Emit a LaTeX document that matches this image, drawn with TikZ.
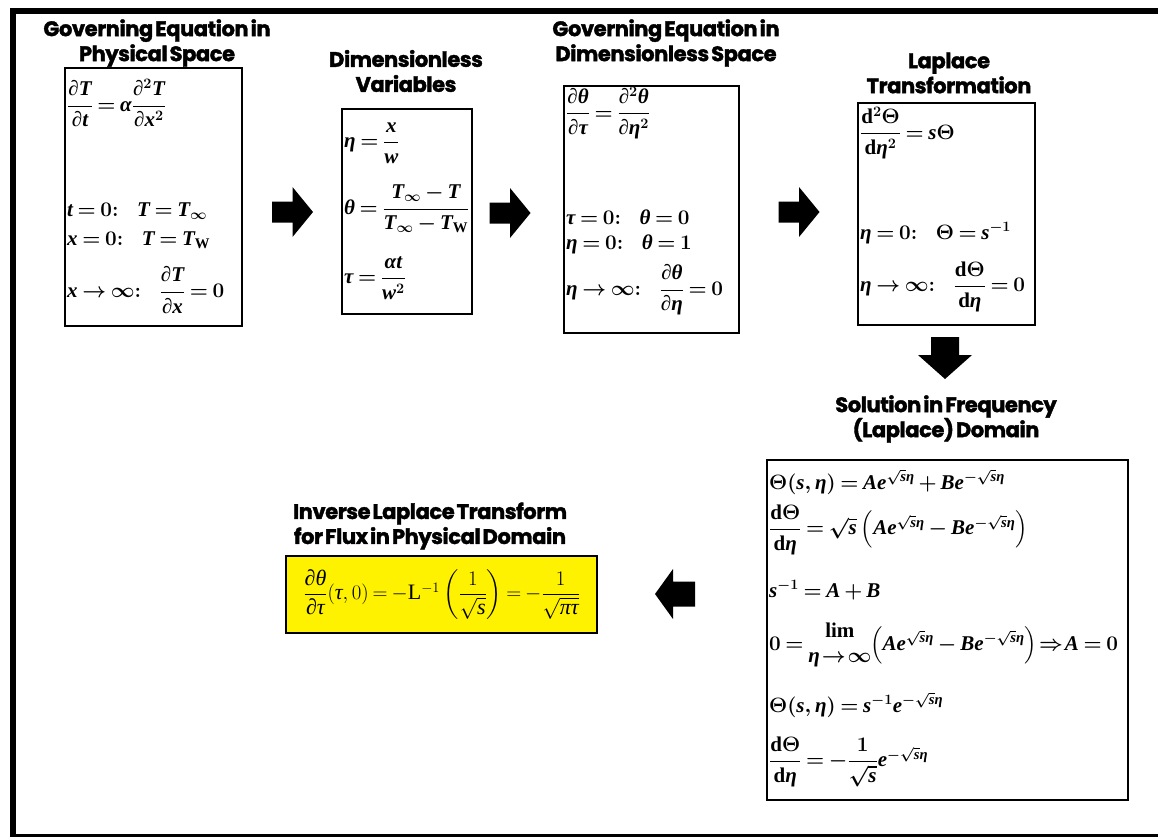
\documentclass[tikz,border=0pt]{standalone}
\usepackage{amsmath}
\usepackage{fontspec}
\newfontfamily\tmsfont{Liberation Serif}[NFSSFamily=tms]
\newfontfamily\titlefont{Poppins}[LetterSpace=-2,WordSpace=0.5,BoldFeatures={FakeBold=1.8}]
\DeclareSymbolFont{tmsbi}{TU}{tms}{m}{it}
\SetSymbolFont{tmsbi}{bold}{TU}{tms}{b}{it}
\DeclareSymbolFont{tmsbf}{TU}{tms}{m}{n}
\SetSymbolFont{tmsbf}{bold}{TU}{tms}{b}{n}
\DeclareMathAlphabet{\mrm}{TU}{tms}{m}{n}
\SetMathAlphabet{\mrm}{bold}{TU}{tms}{b}{n}
\DeclareMathSymbol{T}{\mathalpha}{tmsbi}{"54}
\DeclareMathSymbol{t}{\mathalpha}{tmsbi}{"74}
\DeclareMathSymbol{x}{\mathalpha}{tmsbi}{"78}
\DeclareMathSymbol{w}{\mathalpha}{tmsbi}{"77}
\DeclareMathSymbol{s}{\mathalpha}{tmsbi}{"73}
\DeclareMathSymbol{A}{\mathalpha}{tmsbi}{"41}
\DeclareMathSymbol{B}{\mathalpha}{tmsbi}{"42}
\DeclareMathSymbol{e}{\mathalpha}{tmsbi}{"65}
\DeclareMathSymbol{0}{\mathalpha}{tmsbf}{"30}
\DeclareMathSymbol{1}{\mathalpha}{tmsbf}{"31}
\DeclareMathSymbol{2}{\mathalpha}{tmsbf}{"32}
\DeclareMathSymbol{=}{\mathrel}{tmsbf}{"3D}
\DeclareMathSymbol{+}{\mathbin}{tmsbf}{"2B}
\Umathchardef\eta="0 \symtmsbi "03B7
\Umathchardef\theta="0 \symtmsbi "03B8
\Umathchardef\tau="0 \symtmsbi "03C4
\Umathchardef\alpha="0 \symtmsbi "03B1
\Umathchardef\pi="0 \symtmsbi "03C0
\Umathchardef\partial="0 \symtmsbi "2202
\Umathchardef\Theta="0 \symtmsbf "0398
\newcommand\cgap{\mrm{:}\mkern14mu}
\thickmuskip=3.5mu plus 1mu\relax
\medmuskip=3mu\relax
\usetikzlibrary{calc}
\tikzset{
  frame/.style={draw=black,line width=2.4pt},
  ttl/.style={align=center,inner sep=0pt,font=\titlefont\bfseries\fontsize{21}{25}\selectfont},
  eq/.style={anchor=west,inner sep=0pt,font=\fontsize{21}{25}\selectfont\boldmath},
  rarr/.pic={\fill (-20.5,-10.5) -- (0,-10.5) -- (0,-25) -- (20.5,0) -- (0,25) -- (0,10.5) -- (-20.5,10.5) -- cycle;},
  larr/.pic={\fill (20,-12.5) -- (-2,-12.5) -- (-2,-25) -- (-20,0) -- (-2,25) -- (-2,12.5) -- (20,12.5) -- cycle;},
  darr/.pic={\fill (-14,-21) -- (-14,-3) -- (-27,-3) -- (0,21) -- (27,-3) -- (14,-3) -- (14,-21) -- cycle;}
}
\begin{document}
\begin{tikzpicture}[x=1pt,y=-1pt]
\useasboundingbox (0,0) rectangle (1158,836);
\draw[line width=6pt] (13,11) rectangle (1185,837);
% titles
\node[ttl] (t1) at (157,43) {Governing Equation in\\Physical Space};
\node[ttl] (t2) at (406,71) {Dimensionless\\Variables};
\node[ttl] (t3) at (666,43) {Governing Equation in\\Dimensionless Space};
\node[ttl] (t4) at (949,73) {Laplace\\Transformation};
\node[ttl] (t5) at (946,419) {Solution in Frequency\\(Laplace) Domain};
\node[ttl] (t6) at (430,526) {Inverse Laplace Transform\\for Flux in Physical Domain};
% boxes
\node[frame,anchor=north west,minimum width=177,minimum height=258] (b1) at (64,67) {};
\node[frame,anchor=north west,minimum width=130,minimum height=205] (b2) at (341,108) {};
\node[frame,anchor=north west,minimum width=175,minimum height=247] (b3) at (563,85) {};
\node[frame,anchor=north west,minimum width=177,minimum height=222] (b4) at (857,102) {};
\node[frame,anchor=north west,minimum width=361,minimum height=340] (b5) at (766,459) {};
\node[frame,anchor=north west,minimum width=311,minimum height=77,fill=yellow] (b6) at (285,555) {};
% box 1
\node[eq] (e11) at (67,103) {$\dfrac{\partial T}{\partial t}=\alpha\dfrac{\partial^2 T}{\partial x^2}$};
\node[eq] (e12) at (67,211) {$t=0\cgap T=T_\infty$};
\node[eq] (e13) at (67,240) {$x=0\cgap T=T_{\mrm{W}}$};
\node[eq] (e14) at (67,290) {$x\to\infty\cgap \dfrac{\partial T}{\partial x}=0$};
% box 2
\node[eq] (e21) at (344,143) {$\eta=\dfrac{x}{w}$};
\node[eq] (e22) at (344,209) {$\theta=\dfrac{T_\infty-T}{T_\infty-T_{\mrm{W}}}$};
\node[eq] (e23) at (344,278) {$\tau=\dfrac{\alpha t}{w^2}$};
% box 3
\node[eq] (e31) at (566,113) {$\dfrac{\partial\theta}{\partial\tau}=\dfrac{\partial^2\theta}{\partial\eta^2}$};
\node[eq] (e32) at (566,217) {$\tau=0\cgap \theta=0$};
\node[eq] (e33) at (566,244) {$\eta=0\cgap \theta=1$};
\node[eq] (e34) at (566,290) {$\eta\to\infty\cgap \dfrac{\partial\theta}{\partial\eta}=0$};
% box 4
\node[eq] (e41) at (860,133) {$\dfrac{\mrm{d}^2\Theta}{\mrm{d}\eta^2}=s\Theta$};
\node[eq] (e42) at (860,233) {$\eta=0\cgap \Theta=s^{-1}$};
\node[eq] (e43) at (860,287) {$\eta\to\infty\cgap \dfrac{\mrm{d}\Theta}{\mrm{d}\eta}=0$};
% box 5
\node[eq] (e51) at (769,482) {$\Theta(s,\eta)=Ae^{\sqrt{s}\eta}+Be^{-\sqrt{s}\eta}$};
\node[eq] (e52) at (769,530) {$\dfrac{\mrm{d}\Theta}{\mrm{d}\eta}=\sqrt{s}\left(Ae^{\sqrt{s}\eta}-Be^{-\sqrt{s}\eta}\right)$};
\node[eq] (e53) at (769,590) {$s^{-1}=A+B$};
\node[eq] (e54) at (769,645) {$0=\begin{array}{@{}c@{}}\mrm{lim}\\ \eta\mkern-2mu\to\mkern-2mu\infty\end{array}\mkern-4mu\left(Ae^{\sqrt{s}\eta}-Be^{-\sqrt{s}\eta}\right)\mkern-2mu\Rightarrow\mkern-2mu A=0$};
\node[eq] (e55) at (769,705) {$\Theta(s,\eta)=s^{-1}e^{-\sqrt{s}\eta}$};
\node[eq] (e56) at (769,762) {$\dfrac{\mrm{d}\Theta}{\mrm{d}\eta}=-\dfrac{1}{\sqrt{s}}e^{-\sqrt{s}\eta}$};
% box 6
\node[inner sep=0pt,font=\fontsize{22}{26}\selectfont] (e61) at (b6.center) {$\dfrac{\partial\theta}{\partial\tau}(\tau,0)=-\mrm{L}^{-1}\left(\dfrac{1}{\sqrt{s}}\right)=-\dfrac{1}{\sqrt{\pi\tau}}$};
% arrows
\pic at (292.5,212) {rarr};
\pic at (510,213) {rarr};
\pic at (799,212) {rarr};
\pic at (945,358) {darr};
\pic at (675,594) {larr};
\end{tikzpicture}
\end{document}
